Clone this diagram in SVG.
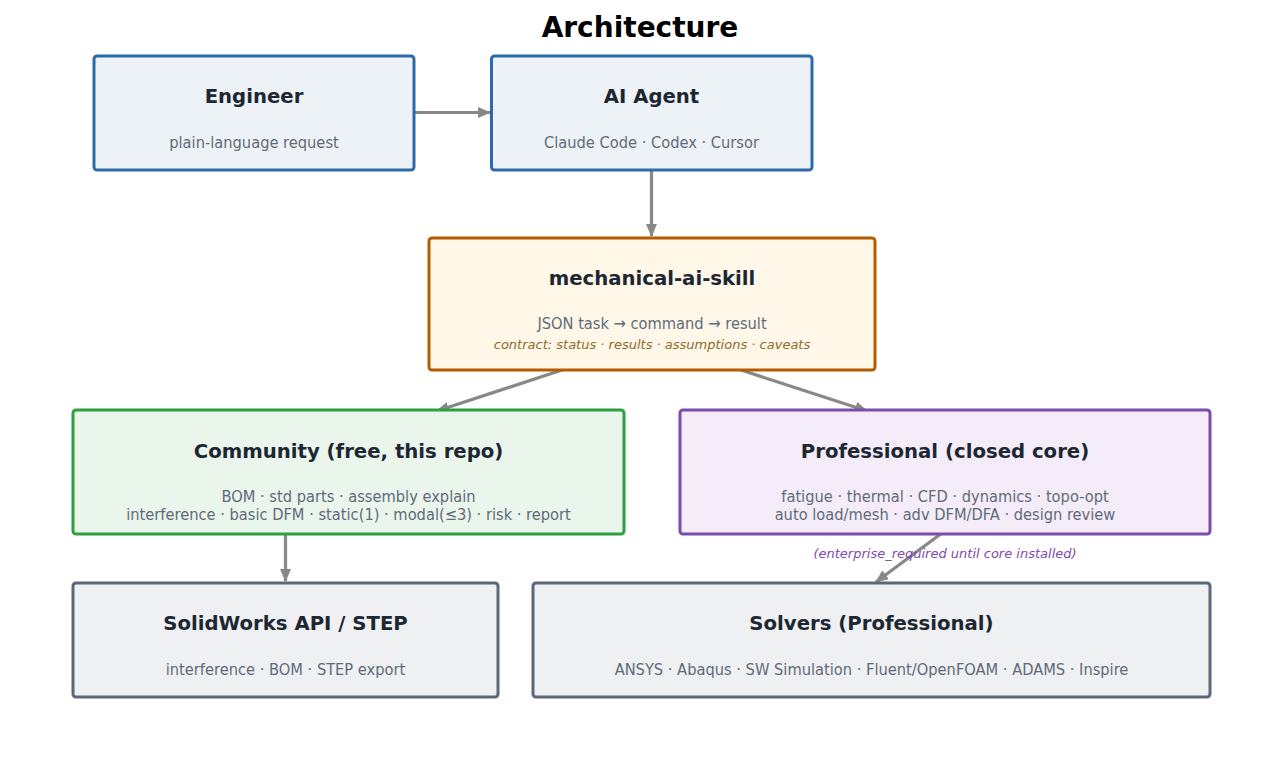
<svg xmlns="http://www.w3.org/2000/svg" width="1282" height="763" viewBox="0 0 1282 763">
<style>
.title{font-family:"DejaVu Sans",sans-serif;font-weight:bold;font-size:19.7px;fill:#1c2733;text-anchor:middle}
.sub{font-family:"DejaVu Sans Condensed","DejaVu Sans",sans-serif;font-stretch:condensed;font-size:16.3px;fill:#5f6b7a;text-anchor:middle}
.it{font-family:"DejaVu Sans",sans-serif;font-style:italic;font-size:13px;text-anchor:middle}
.box{stroke-width:3}
.conn{stroke:#888888;stroke-width:3.2;fill:none;marker-end:url(#ah)}
</style>
<defs>
<marker id="ah" markerWidth="13" markerHeight="11" refX="12" refY="5.5" orient="auto" markerUnits="userSpaceOnUse" viewBox="0 0 13 11">
<path d="M0,0 L13,5.5 L0,11 z" fill="#888888"/>
</marker>
</defs>
<rect width="1282" height="763" fill="#ffffff"/>
<text x="640" y="37" font-family="DejaVu Sans,sans-serif" font-weight="bold" font-size="28" text-anchor="middle" fill="#000000">Architecture</text>

<g id="connectors">
<line class="conn" x1="415" y1="112.5" x2="490" y2="112.5"/>
<line class="conn" x1="651.5" y1="171" x2="651.5" y2="236"/>
<line class="conn" x1="565" y1="369" x2="437" y2="411"/>
<line class="conn" x1="738" y1="369" x2="867" y2="411"/>
<line class="conn" x1="285.5" y1="535" x2="285.5" y2="581"/>
<line class="conn" x1="942" y1="533" x2="876" y2="582"/>
</g>

<g id="engineer">
<rect class="box" x="94" y="56" width="320" height="114" rx="3" fill="#edf2f7" stroke="#2e6aa8"/>
<text class="title" x="254" y="103">Engineer</text>
<text class="sub" x="254" y="148">plain-language request</text>
</g>
<g id="ai-agent">
<rect class="box" x="491.5" y="56" width="320.5" height="114" rx="3" fill="#edf2f7" stroke="#2e6aa8"/>
<text class="title" x="651.5" y="103">AI Agent</text>
<text class="sub" x="651.5" y="148">Claude Code · Codex · Cursor</text>
</g>
<g id="skill">
<rect class="box" x="429" y="238" width="446" height="132" rx="3" fill="#fff7e8" stroke="#b35c00"/>
<text class="title" x="652" y="285">mechanical-ai-skill</text>
<text class="sub" x="652" y="329">JSON task → command → result</text>
<text class="it" x="652" y="349" fill="#8a6a2a">contract: status · results · assumptions · caveats</text>
</g>
<g id="community">
<rect class="box" x="73" y="410" width="551" height="124" rx="3" fill="#eaf5ec" stroke="#2e9e44"/>
<text class="title" x="348.5" y="458">Community (free, this repo)</text>
<text class="sub" x="348.5" y="502">BOM · std parts · assembly explain</text>
<text class="sub" x="348.5" y="520">interference · basic DFM · static(1) · modal(≤3) · risk · report</text>
</g>
<g id="professional">
<rect class="box" x="680" y="410" width="530" height="124" rx="3" fill="#f4ecf8" stroke="#7b4bb0"/>
<text class="title" x="945" y="458">Professional (closed core)</text>
<text class="sub" x="945" y="502">fatigue · thermal · CFD · dynamics · topo-opt</text>
<text class="sub" x="945" y="520">auto load/mesh · adv DFM/DFA · design review</text>
</g>
<text class="it" x="945" y="558" fill="#7b4bb0">(enterprise_required until core installed)</text>
<g id="solidworks">
<rect class="box" x="73" y="583" width="425" height="114" rx="3" fill="#eef0f2" stroke="#5a6878"/>
<text class="title" x="285.5" y="630">SolidWorks API / STEP</text>
<text class="sub" x="285.5" y="675">interference · BOM · STEP export</text>
</g>
<g id="solvers">
<rect class="box" x="533" y="583" width="677" height="114" rx="3" fill="#eef0f2" stroke="#5a6878"/>
<text class="title" x="871.5" y="630">Solvers (Professional)</text>
<text class="sub" x="871.5" y="675">ANSYS · Abaqus · SW Simulation · Fluent/OpenFOAM · ADAMS · Inspire</text>
</g>
</svg>
